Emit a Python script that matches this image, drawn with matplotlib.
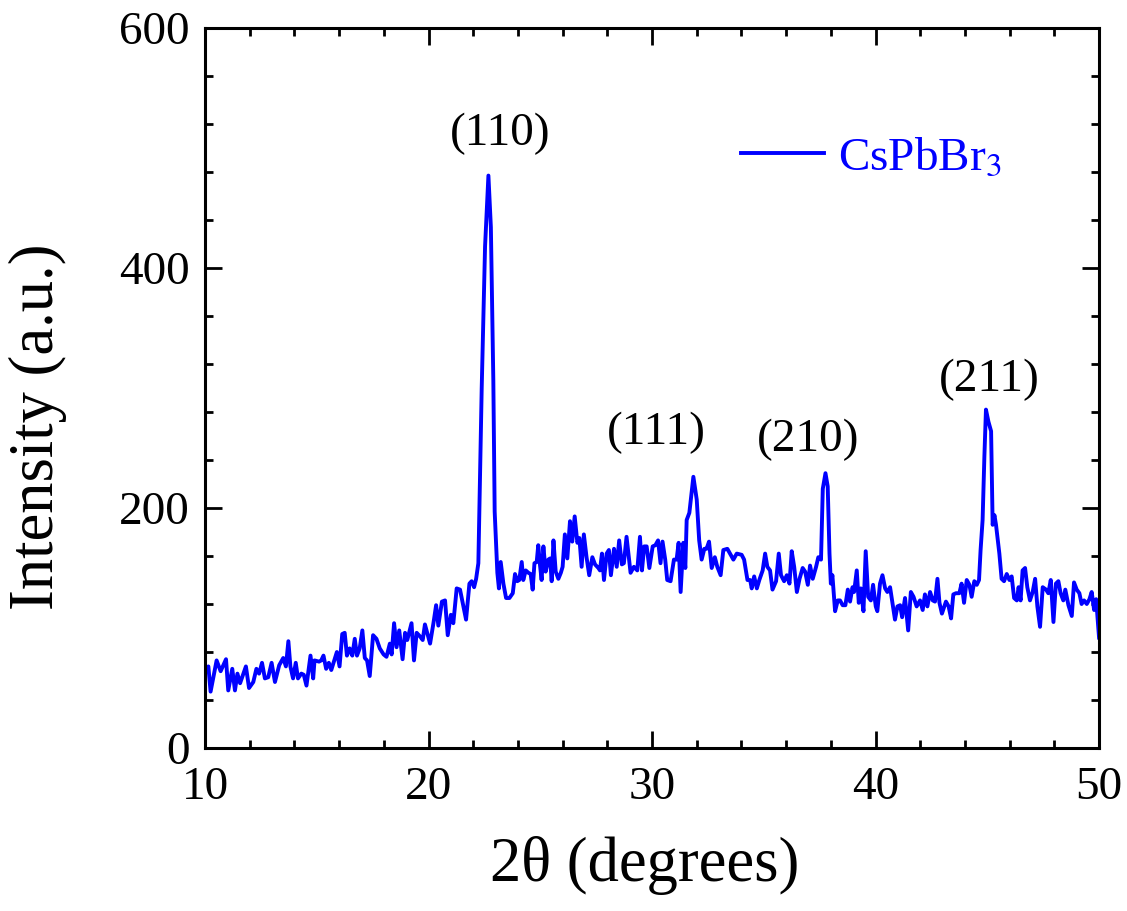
import matplotlib
matplotlib.use("Agg")
import matplotlib.pyplot as plt
from matplotlib.ticker import MultipleLocator

plt.rcParams['font.family'] = ['Liberation Serif', 'DejaVu Serif']
plt.rcParams['mathtext.fontset'] = 'stix'

# XRD pattern (2theta in degrees, intensity in a.u.)
two_theta = [
    10.0, 10.15, 10.25, 10.52, 10.7, 10.94, 11.04, 11.22, 11.34, 11.45, 11.57, 11.83, 11.97,
    12.16, 12.3, 12.42, 12.55, 12.68, 12.83, 12.98, 13.13, 13.32, 13.5, 13.62, 13.73, 13.82,
    13.94, 14.06, 14.16, 14.31, 14.42, 14.54, 14.72, 14.84, 14.9, 15.1, 15.2, 15.3, 15.42,
    15.54, 15.65, 15.75, 15.9, 16.02, 16.14, 16.25, 16.35, 16.47, 16.59, 16.7, 16.8, 16.92,
    17.04, 17.15, 17.25, 17.37, 17.52, 17.67, 17.82,
    17.99, 18.12, 18.27, 18.35, 18.46, 18.57, 18.69, 18.84, 18.95, 19.05, 19.24, 19.35, 19.47,
    19.62, 19.74, 19.84, 20.07, 20.22, 20.34, 20.44, 20.6, 20.74, 20.86, 21.0, 21.11, 21.26,
    21.41, 21.56, 21.68, 21.83, 21.93, 22.04, 22.13, 22.23,
    22.38, 22.53, 22.68, 22.79, 22.9, 22.96, 23.08,
    23.15, 23.23, 23.35, 23.47, 23.62, 23.77, 23.87, 23.97, 24.06, 24.17, 24.24, 24.35, 24.47,
    24.57, 24.66, 24.74, 24.84, 24.91, 24.99, 25.06, 25.14, 25.24, 25.36, 25.44, 25.51, 25.59,
    25.69, 25.81,
    25.92, 26.0, 26.1, 26.21, 26.33, 26.43, 26.54, 26.66, 26.75, 26.85, 26.95, 27.07, 27.19,
    27.33, 27.45, 27.6, 27.67, 27.76, 27.85, 27.97, 28.07, 28.16, 28.3, 28.42, 28.53, 28.65,
    28.74, 28.86, 29.04, 29.19, 29.34, 29.46, 29.55, 29.65, 29.76, 29.88, 30.03, 30.15, 30.27,
    30.38, 30.47, 30.59, 30.68, 30.83, 30.98, 31.1, 31.19, 31.28, 31.4, 31.49, 31.55, 31.67,
    31.85, 32.0, 32.11, 32.22, 32.34, 32.44, 32.55, 32.67, 32.81, 32.92, 33.07, 33.19, 33.37,
    33.52, 33.64, 33.79,
    34.01, 34.12, 34.27, 34.39, 34.46, 34.57, 34.69, 34.8, 34.95, 35.06, 35.16, 35.28, 35.39,
    35.55, 35.67, 35.77, 35.91, 36.03, 36.15, 36.25, 36.36, 36.48, 36.6, 36.74, 36.85, 36.97,
    37.07, 37.19, 37.34, 37.44, 37.56, 37.64, 37.76, 37.86, 37.94, 38.0, 38.07, 38.19, 38.31,
    38.41, 38.53, 38.65, 38.76, 38.86, 38.97, 39.04, 39.16, 39.25, 39.34, 39.46, 39.56, 39.67,
    39.79, 39.89, 40.01, 40.08, 40.2, 40.31, 40.43, 40.53, 40.65, 40.77, 40.87, 40.98, 41.1,
    41.19, 41.32, 41.46, 41.58, 41.7, 41.84,
    41.99, 42.11, 42.21, 42.32, 42.44, 42.56, 42.66, 42.77, 42.86, 42.97, 43.15, 43.27, 43.38,
    43.48, 43.6, 43.75, 43.85, 43.96, 44.08, 44.2, 44.3, 44.42, 44.53, 44.63, 44.7, 44.79,
    44.87, 44.94, 45.05, 45.17, 45.24, 45.32, 45.39, 45.54, 45.64, 45.75, 45.87, 45.99, 46.09,
    46.2, 46.32, 46.4, 46.49, 46.58, 46.69, 46.79, 46.91, 47.03, 47.14, 47.24, 47.36, 47.48,
    47.63, 47.73, 47.84, 47.96, 48.07, 48.18, 48.28, 48.4, 48.49, 48.63, 48.78, 48.88, 49.0,
    49.12, 49.22, 49.33, 49.45, 49.57, 49.67, 49.78, 49.87, 50.0,
]
intensity = [
    64, 68, 47, 73, 64, 74, 48, 66, 48, 62, 54, 68, 50,
    55, 66, 62, 71, 58, 59, 71, 55, 69, 75, 68, 89, 68,
    58, 71, 58, 62, 61, 52, 77, 58, 73, 72, 73, 77, 66,
    71, 65, 71, 80, 68, 95, 96, 77, 83, 77, 91, 77, 83,
    98, 75, 73, 60, 94, 91, 83,
    78, 76, 87, 78, 104, 84, 98, 74, 96, 90, 104, 73, 96,
    93, 90, 103, 87, 104, 119, 102, 122, 123, 94, 111, 104, 133,
    132, 118, 107, 137, 139, 134, 141, 154,
    300, 418, 477, 434, 306, 197, 146,
    133, 155, 137, 125, 125, 129, 145, 139, 140, 155, 140, 148, 146,
    145, 132, 154, 155, 169, 152, 140, 168, 147, 157, 158, 139, 173,
    147, 141,
    146, 151, 178, 158, 189, 172, 193, 171, 175, 151, 178, 159, 144,
    159, 153, 150, 148, 162, 140, 162, 165, 144, 166, 151, 173, 153,
    154, 176, 146, 151, 148, 176, 148, 168, 168, 150, 168, 169, 173,
    154, 172, 157, 140, 139, 157, 157, 171, 130, 171, 150, 190, 196,
    226, 207, 173, 157, 166, 166, 172, 150, 159, 151, 144, 165, 166,
    161, 157, 162,
    161, 157, 140, 140, 133, 143, 133, 140, 148, 162, 151, 148, 132,
    139, 162, 144, 139, 144, 137, 164, 151, 130, 141, 150, 147, 136,
    152, 141, 151, 159, 157, 216, 229, 218, 162, 137, 144, 114, 123,
    123, 119, 119, 132, 122, 134, 130, 148, 121, 133, 114, 164, 126,
    123, 136, 118, 114, 137, 144, 133, 130, 134, 119, 107, 118, 119,
    109, 125, 98, 130, 126, 118,
    123, 115, 128, 118, 130, 123, 122, 141, 121, 112, 122, 118, 108,
    128, 129, 129, 137, 121, 140, 136, 126, 139, 136, 140, 165, 190,
    243, 282, 272, 264, 186, 194, 186, 162, 141, 139, 145, 140, 143,
    125, 123, 134, 123, 148, 150, 134, 123, 130, 141, 118, 101, 134,
    132, 129, 140, 105, 137, 139, 129, 123, 132, 119, 110, 138, 132,
    129, 120, 123, 120, 124, 130, 115, 124, 92,
]

peak_labels = ["(110)", "(111)", "(210)", "(211)"]
peak_x = [23.2, 30.2, 37.0, 45.1]
peak_y = [512, 263, 257, 307]

fig = plt.figure(figsize=(11.27, 9.11), dpi=100)
ax = fig.add_axes([0.1819, 0.1789, 0.7933, 0.7904])

ax.plot(two_theta, intensity, color="blue", lw=2.8, label=r"CsPbBr$_3$")

for lab, px, py in zip(peak_labels, peak_x, peak_y):
    ax.text(px, py, lab, fontsize=34, ha="center", va="center")

ax.set_xlim(10, 50)
ax.set_ylim(0, 600)
ax.xaxis.set_major_locator(MultipleLocator(10))
ax.xaxis.set_minor_locator(MultipleLocator(2))
ax.yaxis.set_major_locator(MultipleLocator(200))
ax.yaxis.set_minor_locator(MultipleLocator(40))
ax.tick_params(which="both", direction="in", top=True, right=True, width=2)
ax.tick_params(which="major", length=12, labelsize=34)
ax.tick_params(axis="x", which="major", pad=13)
ax.tick_params(axis="y", which="major", pad=11)
ax.tick_params(which="minor", length=6)
for sp in ax.spines.values():
    sp.set_linewidth(2.2)

ax.set_xlabel(r"2θ (degrees)", fontsize=45)
ax.set_ylabel("Intensity (a.u.)", fontsize=45)
ax.xaxis.set_label_coords(0.492, -0.122)
ax.yaxis.set_label_coords(-0.154, 0.446)

ax.legend(loc="center left", bbox_to_anchor=(0.5996, 0.819), frameon=False,
          fontsize=34, labelcolor="blue", handlelength=1.75, handletextpad=0.3,
          borderaxespad=0, borderpad=0)

fig.savefig("out.png", dpi=100)
